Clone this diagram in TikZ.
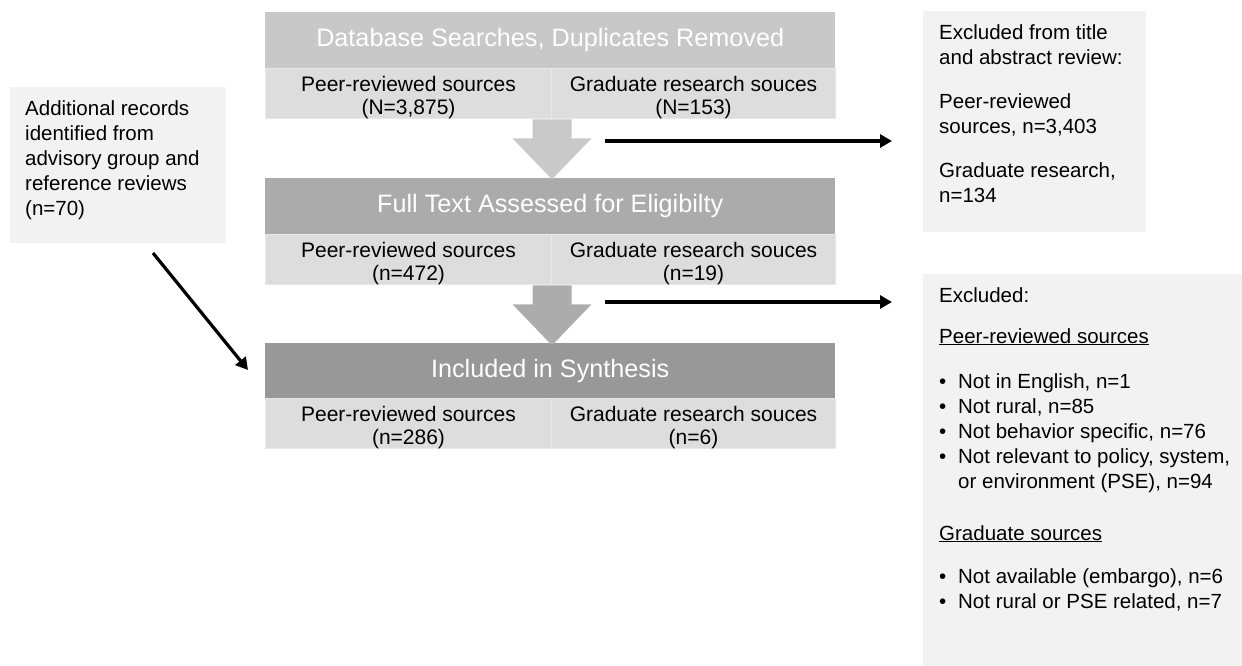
\documentclass[tikz,border=0pt]{standalone}
\usepackage{fontspec}
\setmainfont{Liberation Sans}
\usetikzlibrary{arrows.meta}

\definecolor{hdrA}{RGB}{200,200,200}
\definecolor{hdrB}{RGB}{171,171,171}
\definecolor{hdrC}{RGB}{152,152,152}
\definecolor{cellfill}{RGB}{221,221,221}
\definecolor{cellline}{RGB}{232,232,232}
\definecolor{sidefill}{RGB}{242,242,242}
\definecolor{blockA}{RGB}{201,201,201}
\definecolor{blockB}{RGB}{172,172,172}

\tikzset{
  hdr/.style={rectangle, inner sep=0pt, anchor=north west, text=white,
    minimum width=570pt, minimum height=56pt,
    font=\fontsize{25.2}{30}\selectfont},
  cell/.style={rectangle, inner sep=0pt, anchor=north west, fill=cellfill,
    draw=cellline, line width=1pt, minimum height=50pt, align=center,
    font=\fontsize{21}{23}\selectfont},
  sidebox/.style={rectangle, inner sep=0pt, anchor=north west, fill=sidefill},
  sidetext/.style={inner sep=0pt, anchor=north west, align=left,
    font=\fontsize{20.5}{25}\selectfont},
  conn/.style={line width=3.2pt, -{Triangle[length=12pt,width=13pt]}}
}

% bullet with a fixed hanging indent
\newcommand{\bul}{\makebox[19pt][l]{\textbullet}}
% lowers the two-line cell text a little inside its cell
\newcommand{\cellstrut}{\rule{0pt}{23pt}}

\begin{document}
\begin{tikzpicture}[x=1pt,y=-1pt]
\useasboundingbox (0,0) rectangle (1242,666);

% ---- stage 1: database searches
\node[hdr, fill=hdrA] (h1) at (265,12) {Database Searches, Duplicates Removed};
\node[cell, minimum width=286pt] (p1) at (265,68) {\cellstrut Peer-reviewed sources\\(N=3,875)};
\node[cell, minimum width=284pt] (g1) at (551,68) {\cellstrut Graduate research souces\\(N=153)};

% ---- stage 2: full text
\node[hdr, fill=hdrB] (h2) at (265,178) {Full Text Assessed for Eligibilty};
\node[cell, minimum width=286pt] (p2) at (265,234) {\cellstrut Peer-reviewed sources\\(n=472)};
\node[cell, minimum width=284pt] (g2) at (551,234) {\cellstrut Graduate research souces\\(n=19)};

% ---- stage 3: included
\node[hdr, fill=hdrC, minimum height=55pt] (h3) at (265,343) {Included in Synthesis};
\node[cell, minimum width=286pt] (p3) at (265,398) {\cellstrut Peer-reviewed sources\\(n=286)};
\node[cell, minimum width=284pt] (g3) at (551,398) {\cellstrut Graduate research souces\\(n=6)};

% ---- block arrows between stages
\fill[blockA, shift={(p1.south east)}]
  (-19.5,0) -- (19.5,0) -- (19.5,19) -- (39.5,19) -- (0,60) -- (-39.5,19) -- (-19.5,19) -- cycle;
\fill[blockB, shift={(p2.south east)}]
  (-19.5,0) -- (19.5,0) -- (19.5,19) -- (39.5,19) -- (0,60) -- (-39.5,19) -- (-19.5,19) -- cycle;

% ---- additional records
\node[sidebox, minimum width=216pt, minimum height=156pt] (add) at (10,87) {};
\node[sidetext] (addt) at (25,100) {Additional records\\identified from\\advisory group and\\reference reviews\\(n=70)};

% ---- exclusions after title/abstract review
\node[sidebox, minimum width=223pt, minimum height=221pt] (ex1) at (923,11) {};
\node[sidetext] (ex1t) at (939,24) {Excluded from title\\and abstract review:\\[19pt]Peer-reviewed\\sources, n=3,403\\[19pt]Graduate research,\\n=134};

% ---- exclusions after full text review
\node[sidebox, minimum width=319pt, minimum height=392pt] (ex2) at (923,274) {};
\node[sidetext] (ex2t) at (939,287) {Excluded:\\[16pt]
\underline{Peer-reviewed sources}\\[20pt]
\bul Not in English, n=1\\
\bul Not rural, n=85\\
\bul Not behavior specific, n=76\\
\bul Not relevant to policy, system,\\
\hspace*{19pt}or environment (PSE), n=94\\[27pt]
\underline{Graduate sources}\\[18pt]
\bul Not available (embargo), n=6\\
\bul Not rural or PSE related, n=7};

% ---- connectors
\coordinate (c1s) at (605,141);
\coordinate (c1e) at (892,141);
\coordinate (c2s) at (605,302);
\coordinate (c2e) at (892,302);
\coordinate (c3s) at (153,253);
\coordinate (c3e) at (248,370);
\draw[conn] (c1s) -- (c1e);
\draw[conn] (c2s) -- (c2e);
\draw[conn] (c3s) -- (c3e);
\end{tikzpicture}
\end{document}
